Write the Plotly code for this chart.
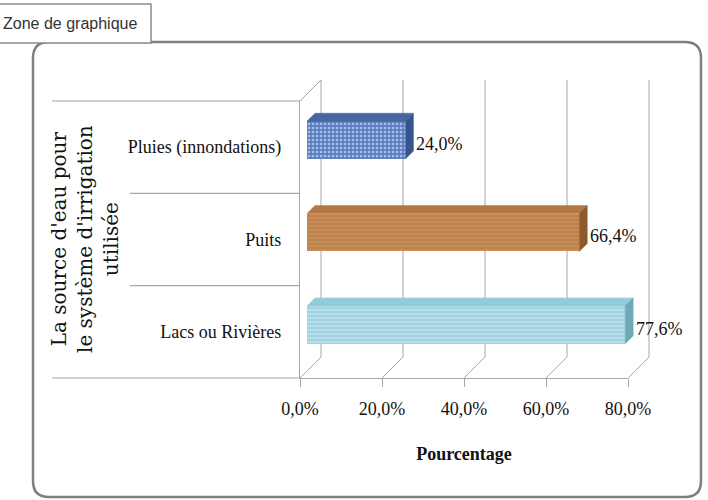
import plotly.graph_objects as go

# ---------------- data ----------------
categories = ["Lacs ou Rivières", "Puits", "Pluies (innondations)"]
values = [77.6, 66.4, 24.0]
value_labels = ["77,6%", "66,4%", "24,0%"]
x_ticks = [0, 20, 40, 60, 80]
x_tick_labels = ["0,0%", "20,0%", "40,0%", "60,0%", "80,0%"]
x_title = "Pourcentage"
y_title = "La source d'eau pour<br>le système d'irrigation<br>utilisée"
zone_label = "Zone de graphique"

# ---------------- styling / geometry ----------------
W, H = 708, 500
XMIN, XMAX = 0, 80
FRONT_L, FRONT_R, FRONT_T, FRONT_B = 300, 628, 101, 378
DEPTH = 21          # 3D wall depth (px)
BAR_SHIFT = 7       # bars sit slightly inside the depth (px)
BAR_D = 8           # bar depth (px)
BAR_W = 0.41
SERIF = "Liberation Serif"
GRID = "#a6a6a6"

face_colors = ["#b2e2ee", "#c98b55", "#5b7ec3"]
pattern_fg = ["#9ad2e0", "#b87a45", "#3a5aa0"]
pattern_shape = ["-", "-", "."]
pattern_solidity = [0.1, 0.1, 0.35]
top_colors = ["#93ccd9", "#b37743", "#46679f"]
side_colors = ["#6fa9b7", "#8d5a2c", "#36558e"]


def px(x):
    return x / W


def py(y):
    return 1 - y / H


n = len(categories)
fig = go.Figure()

# front axes (labels, floor/wall front edges)
x_dom = [px(FRONT_L), px(FRONT_R)]
y_dom = [py(FRONT_B), py(FRONT_T)]
# bar axes: shifted into depth
x2_dom = [px(FRONT_L + BAR_SHIFT), px(FRONT_R + BAR_SHIFT)]
y2_dom = [py(FRONT_B) + BAR_SHIFT / H, py(FRONT_T) + BAR_SHIFT / H]

ypos = list(range(n))

# invisible trace to anchor front axes
fig.add_trace(go.Scatter(x=[XMIN, XMAX], y=[-0.5, n - 0.5], mode="markers",
                         marker=dict(opacity=0), hoverinfo="skip",
                         showlegend=False, xaxis="x", yaxis="y"))

# bars (front faces)
fig.add_trace(go.Bar(
    x=values, y=ypos, orientation="h", width=BAR_W,
    marker=dict(color=face_colors,
                pattern=dict(shape=pattern_shape, fgcolor=pattern_fg,
                             size=4, solidity=pattern_solidity),
                line=dict(width=0)),
    hoverinfo="skip", showlegend=False, xaxis="x2", yaxis="y2"))

# 3D top & side faces, in bar-axis units
x_unit = (XMAX - XMIN) / (FRONT_R - FRONT_L)      # data per px
y_unit = n / (FRONT_B - FRONT_T)
dxu = BAR_D * x_unit
dyu = BAR_D * y_unit
for i, v in enumerate(values):
    top = ypos[i] + BAR_W / 2
    bot = ypos[i] - BAR_W / 2
    fig.add_trace(go.Scatter(
        x=[0, v, v + dxu, dxu, 0], y=[top, top, top + dyu, top + dyu, top],
        fill="toself", fillcolor=top_colors[i], mode="lines",
        line=dict(width=0.5, color=top_colors[i]), hoverinfo="skip",
        showlegend=False, xaxis="x2", yaxis="y2"))
    fig.add_trace(go.Scatter(
        x=[v, v + dxu, v + dxu, v, v], y=[bot, bot + dyu, top + dyu, top, bot],
        fill="toself", fillcolor=side_colors[i], mode="lines",
        line=dict(width=0.5, color=side_colors[i]), hoverinfo="skip",
        showlegend=False, xaxis="x2", yaxis="y2"))

shapes = []
# back wall vertical gridlines + floor diagonals
for t in x_ticks:
    frac = (t - XMIN) / (XMAX - XMIN)
    shapes.append(dict(type="line", xref="x domain", yref="paper",
                       xsizemode="pixel", xanchor=frac, x0=DEPTH, x1=DEPTH,
                       y0=py(FRONT_B - DEPTH), y1=py(FRONT_T - DEPTH),
                       line=dict(color=GRID, width=1), layer="below"))
    shapes.append(dict(type="line", xref="x domain", yref="paper",
                       xsizemode="pixel", xanchor=frac, x0=0, x1=DEPTH,
                       y0=py(FRONT_B), y1=py(FRONT_B - DEPTH),
                       line=dict(color=GRID, width=1), layer="below"))
# left wall top diagonal
shapes.append(dict(type="line", xref="paper", yref="paper",
                   x0=px(FRONT_L), x1=px(FRONT_L + DEPTH),
                   y0=py(FRONT_T), y1=py(FRONT_T - DEPTH),
                   line=dict(color=GRID, width=1)))
# category separators on the left
for b in range(n + 1):
    frac = b / n
    left = 52 if b in (0, n) else 130
    shapes.append(dict(type="line", xref="paper", yref="y domain",
                       x0=px(left), x1=px(FRONT_L), y0=frac, y1=frac,
                       line=dict(color=GRID, width=1.2)))

# outer rounded frame
r = 16
L, R, T, B = 33, 701, 42, 497
path = (f"M {px(L + r)},{py(T)} L {px(R - r)},{py(T)} "
        f"Q {px(R)},{py(T)} {px(R)},{py(T + r)} L {px(R)},{py(B - r)} "
        f"Q {px(R)},{py(B)} {px(R - r)},{py(B)} L {px(L + r)},{py(B)} "
        f"Q {px(L)},{py(B)} {px(L)},{py(B - r)} L {px(L)},{py(T + r)} "
        f"Q {px(L)},{py(T)} {px(L + r)},{py(T)} Z")
shapes.append(dict(type="path", xref="paper", yref="paper", path=path,
                   line=dict(color="#7f7f7f", width=2.5)))
# zone label box
shapes.append(dict(type="rect", xref="paper", yref="paper",
                   x0=px(-3), x1=px(151), y0=py(43), y1=py(4),
                   fillcolor="white", line=dict(color="#8c8c8c", width=1.5)))

annotations = []
for i, v in enumerate(values):
    annotations.append(dict(x=v, y=ypos[i], xref="x2", yref="y2",
                            text=value_labels[i], showarrow=False,
                            xanchor="left", yanchor="middle",
                            xshift=BAR_D + 1, yshift=-4,
                            font=dict(family=SERIF, size=18, color="#111111")))
annotations.append(dict(x=px(85), y=py(239), xref="paper", yref="paper",
                        text=y_title, showarrow=False, textangle=-90,
                        xanchor="center", yanchor="middle", align="center",
                        font=dict(family="DejaVu Serif", size=20, color="#111111")))
annotations.append(dict(x=px(1), y=py(23), xref="paper", yref="paper",
                        text=zone_label, showarrow=False,
                        xanchor="left", yanchor="middle",
                        font=dict(family="Liberation Sans", size=16, color="#333333")))

fig.update_layout(
    width=W, height=H, autosize=False,
    margin=dict(l=0, r=0, t=0, b=0, pad=0, autoexpand=False),
    paper_bgcolor="white", plot_bgcolor="rgba(0,0,0,0)",
    showlegend=False, bargap=0,
    xaxis=dict(domain=x_dom, range=[XMIN, XMAX], anchor="y",
               automargin=False,
               tickvals=x_ticks, ticktext=x_tick_labels,
               ticks="outside", ticklen=8, tickcolor=GRID, tickwidth=1,
               ticklabelstandoff=6,
               showline=True, linecolor=GRID, linewidth=1.2,
               showgrid=False, zeroline=False,
               tickfont=dict(family=SERIF, size=18, color="#111111"),
               title=dict(text=f"<b>{x_title}</b>", standoff=29,
                          font=dict(family=SERIF, size=18, color="#111111"))),
    yaxis=dict(domain=y_dom, range=[-0.5, n - 0.5], anchor="x",
               automargin=False,
               tickvals=ypos, ticktext=categories,
               ticks="", ticklabelstandoff=14,
               showline=True, linecolor=GRID, linewidth=1.2,
               showgrid=False, zeroline=False,
               tickfont=dict(family=SERIF, size=18, color="#111111")),
    xaxis2=dict(domain=x2_dom, range=[XMIN, XMAX], anchor="y2",
                visible=False, fixedrange=True),
    yaxis2=dict(domain=y2_dom, range=[-0.5, n - 0.5], anchor="x2",
                visible=False, fixedrange=True),
    shapes=shapes, annotations=annotations,
)

fig.write_html("out.html")
